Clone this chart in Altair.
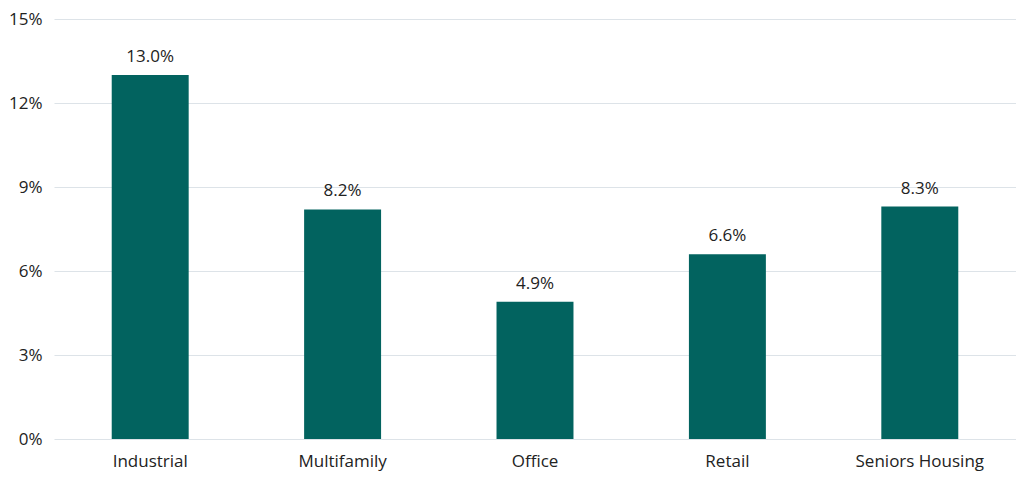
import altair as alt
import pandas as pd

categories = ["Industrial", "Multifamily", "Office", "Retail", "Seniors Housing"]
values = [13.0, 8.2, 4.9, 6.6, 8.3]
labels = ["13.0%", "8.2%", "4.9%", "6.6%", "8.3%"]

df = pd.DataFrame({"cat": categories, "val": values, "label": labels})

FONT = "Open Sans"
FS = 17

base = alt.Chart(df).encode(
    x=alt.X("cat:N", sort=categories, title=None,
            scale=alt.Scale(paddingInner=0.6, paddingOuter=0.3),
            axis=alt.Axis(labelAngle=0, labelFontSize=FS, labelFont=FONT, labelColor="#222222",
                          domain=False, ticks=False, labelPadding=14)),
    y=alt.Y("val:Q", title=None,
            scale=alt.Scale(domain=[0, 15], nice=False),
            axis=alt.Axis(values=[0, 3, 6, 9, 12, 15], labelExpr="datum.value + '%'",
                          labelFontSize=FS, labelFont=FONT, labelColor="#222222",
                          domain=False, ticks=False, labelPadding=12,
                          gridColor="#dde3e8", gridWidth=1.2)),
)

bars = base.mark_bar(color="#02635F")
text = base.mark_text(baseline="bottom", dy=-9, fontSize=FS, font=FONT, color="#222222").encode(
    text="label:N")

chart = (bars + text).properties(
    width=962, height=420,
    padding={"left": 0, "top": 2, "right": 0, "bottom": 2},
).configure_view(stroke=None)

chart.save("out.html", embed_options={"renderer": "svg", "actions": False})
